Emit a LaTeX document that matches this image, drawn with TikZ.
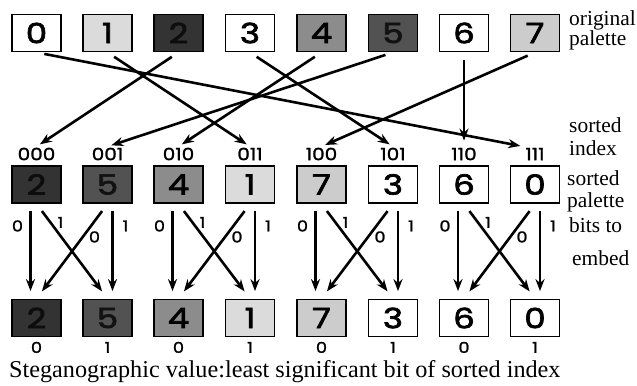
\documentclass[tikz,border=0pt]{standalone}
\usepackage{fontspec}
\setmainfont{Liberation Serif}
\newfontfamily\digitfont[FakeStretch=1.22, FakeBold=2.5]{Poppins}
\newfontfamily\smalldigitfont[FakeStretch=1.18, FakeBold=1.5]{Poppins}
\usetikzlibrary{arrows.meta}

\begin{document}
\begin{tikzpicture}[x=1bp,y=-1bp,
  pal/.style={draw=black, line width=1.8bp, minimum width=49bp, minimum height=37bp,
    inner sep=0pt, font=\digitfont\fontsize{28}{28}\selectfont},
  palA/.style={pal, fill=white},
  palB/.style={pal, fill=black!14},
  palC/.style={pal, fill=black!80, text=black!95},
  palD/.style={pal, fill=black!45},
  palE/.style={pal, fill=black!68, text=black!93},
  palF/.style={pal, fill=black!20},
  idx/.style={font=\smalldigitfont\fontsize{17}{17}\selectfont, inner sep=1bp},
  bit/.style={font=\smalldigitfont\fontsize{15}{15}\selectfont, inner sep=0pt},
  lbl/.style={font=\fontsize{21.5}{21.5}\selectfont, anchor=base west, inner sep=0pt},
  link/.style={line width=2.6bp, -{Stealth[length=12bp,width=9bp]}},
]
\useasboundingbox (0,0) rectangle (637,385);
\clip (0,0) rectangle (637,385);

% original palette
\node[palA] (o0) at (36.5,33) {0};
\node[palB] (o1) at (107.5,33) {1};
\node[palC] (o2) at (178.5,33) {2};
\node[palA] (o3) at (250,33) {3};
\node[palD] (o4) at (321.5,33) {4};
\node[palE] (o5) at (393,33) {5};
\node[palA] (o6) at (464,33) {6};
\node[palF] (o7) at (535,33) {7};

% sorted indices
\node[idx] (i0) at (36.5,154) {000};
\node[idx] (i1) at (107.5,154) {001};
\node[idx] (i2) at (178.5,154) {010};
\node[idx] (i3) at (250,154) {011};
\node[idx] (i4) at (321.5,154) {100};
\node[idx] (i5) at (393,154) {101};
\node[idx] (i6) at (464,154) {110};
\node[idx] (i7) at (535,154) {111};

% sorted palette
\node[palC] (s0) at (36.5,184.5) {2};
\node[palE] (s1) at (107.5,184.5) {5};
\node[palD] (s2) at (178.5,184.5) {4};
\node[palB] (s3) at (250,184.5) {1};
\node[palF] (s4) at (321.5,184.5) {7};
\node[palA] (s5) at (393,184.5) {3};
\node[palA] (s6) at (464,184.5) {6};
\node[palA] (s7) at (535,184.5) {0};

% palette after embedding
\node[palC] (b0) at (36.5,318) {2};
\node[palE] (b1) at (107.5,318) {5};
\node[palD] (b2) at (178.5,318) {4};
\node[palB] (b3) at (250,318) {1};
\node[palF] (b4) at (321.5,318) {7};
\node[palA] (b5) at (393,318) {3};
\node[palA] (b6) at (464,318) {6};
\node[palA] (b7) at (535,318) {0};

% sorting permutation
\draw[link, shorten <=8bp, shorten >=4bp] (o0.south) -- (i7.north west);
\draw[link, shorten <=8bp, shorten >=4bp] (o1.south) -- (i3.north);
\draw[link, shorten <=8bp, shorten >=4bp] (o2.south) -- (i0.north);
\draw[link, shorten <=8bp, shorten >=4bp] (o3.south) -- (i5.north);
\draw[link, shorten <=8bp, shorten >=4bp] (o4.south) -- (i2.north);
\draw[link, shorten <=8bp, shorten >=4bp] (o5.south) -- (i1.north);
\draw[link, shorten <=8bp, shorten >=6bp] (o6.south) -- (i6.north);
\draw[link, shorten <=8bp, shorten >=4bp] (o7.south) -- (i4.north);

% embedding one bit per pair of neighbours
\foreach \l/\r in {0/1,2/3,4/5,6/7}{
  \draw[link, shorten <=7.5bp, shorten >=7.5bp] ([xshift=-6bp]s\l.south) -- ([xshift=-6bp]b\l.north);
  \draw[link, shorten <=7.5bp, shorten >=7.5bp] ([xshift=5bp]s\r.south) -- ([xshift=5bp]b\r.north);
  \draw[link, shorten <=9bp, shorten >=9bp] (s\l.south) -- (b\r.north);
  \draw[link, shorten <=9bp, shorten >=9bp] (s\r.south) -- (b\l.north);
  \node[bit] (zl\l) at ([xshift=-19bp,yshift=-22bp]s\l.south) {0};
  \node[bit] (ol\l) at ([xshift=24bp,yshift=-18.5bp]s\l.south) {1};
  \node[bit] (zr\r) at ([xshift=-13bp,yshift=-33bp]s\r.south) {0};
  \node[bit] (or\r) at ([xshift=18bp,yshift=-22bp]s\r.south) {1};
  \node[bit] (v\l) at ([yshift=-10bp]b\l.south) {0};
  \node[bit] (v\r) at ([yshift=-10bp]b\r.south) {1};
}

% row captions
\node[lbl] (t1) at (569,25) {original};
\node[lbl] (t2) at (569,45) {palette};
\node[lbl] (t3) at (569,132) {sorted};
\node[lbl] (t4) at (569,155) {index};
\node[lbl] (t5) at (567,185.5) {sorted};
\node[lbl] (t6) at (567,207) {palette};
\node[lbl] (t7) at (569,232) {bits to};
\node[lbl] (t8) at (572,265) {embed};

\node[font=\fontsize{24.3}{24.3}\selectfont, anchor=base west, inner sep=0pt] (cap) at (9,377.5)
  {Steganographic value:least significant bit of sorted index};
\end{tikzpicture}
\end{document}
